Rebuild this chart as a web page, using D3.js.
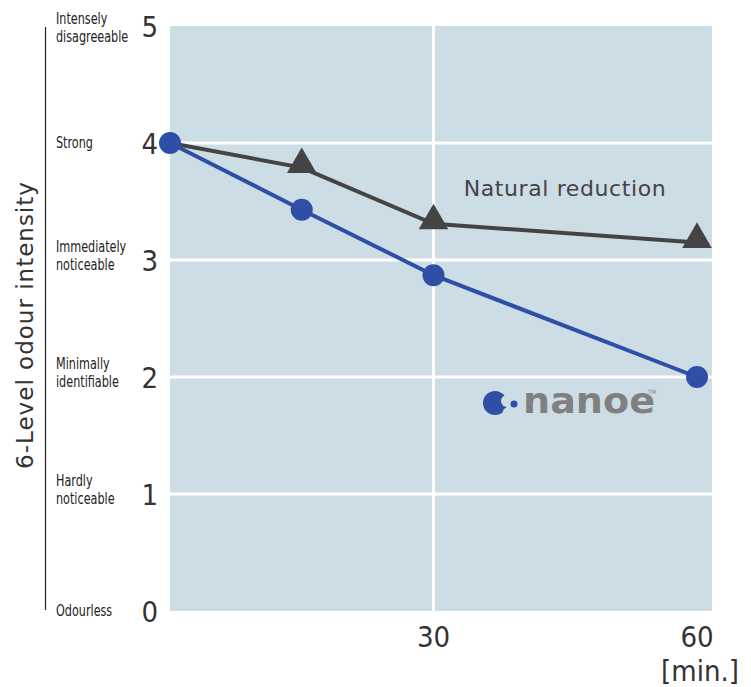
<!DOCTYPE html>
<html>
<head>
<meta charset="utf-8">
<script src="https://cdn.jsdelivr.net/npm/d3@7"></script>
<style>
  body { margin: 0; background: #fff; }
  text { font-family: "DejaVu Sans Condensed", "Liberation Sans Narrow", sans-serif; }
</style>
</head>
<body>
<main></main>
<script>
// data
let minutes = [0, 15, 30, 60]
let natural = [4, 3.79, 3.31, 3.15]
let nanoe = [4, 3.43, 2.87, 2.0]
let levels = [0, 1, 2, 3, 4, 5]
let levelNames = [
  ['Odourless'],
  ['Hardly', 'noticeable'],
  ['Minimally', 'identifiable'],
  ['Immediately', 'noticeable'],
  ['Strong'],
  ['Intensely', 'disagreeable']
]
let xTicks = [30, 60]

let svg = d3.select('main')
    .append('svg')
    .attr('width', 751)
    .attr('height', 687)

let x = d3.scaleLinear().domain([0, 60]).range([170, 697])
let y = d3.scaleLinear().domain([0, 5]).range([611, 26])

// plot background
svg.append('rect')
    .attr('x', x(0))
    .attr('y', y(5))
    .attr('width', x(61.7) - x(0))
    .attr('height', y(0) - y(5))
    .style('fill', '#cddde6')

// grid
svg.append('g')
    .selectAll('line')
    .data([1, 2, 3, 4])
    .join('line')
    .attr('x1', x(0))
    .attr('x2', x(61.7))
    .attr('y1', d => y(d))
    .attr('y2', d => y(d))
    .style('stroke', '#fff')
    .style('stroke-width', 3)

svg.append('line')
    .attr('x1', x(30))
    .attr('x2', x(30))
    .attr('y1', y(5))
    .attr('y2', y(0))
    .style('stroke', '#fff')
    .style('stroke-width', 3)

// left bracket line
svg.append('line')
    .attr('x1', 45.5).attr('x2', 45.5)
    .attr('y1', 27).attr('y2', 610)
    .style('stroke', '#222')
    .style('stroke-width', 1.2)

// axis title
svg.append('text')
    .attr('transform', 'translate(33,325) rotate(-90)')
    .attr('text-anchor', 'middle')
    .style('font-family', '"DejaVu Sans", sans-serif')
    .style('font-size', '23px')
    .style('letter-spacing', '1px')
    .style('fill', '#333')
    .text('6-Level odour intensity')

// y tick numbers
svg.append('g')
    .selectAll('text')
    .data(levels)
    .join('text')
    .attr('x', 158)
    .attr('y', d => y(d) + 11)
    .attr('text-anchor', 'end')
    .style('font-size', '29px')
    .style('font-weight', '300')
    .style('fill', '#333')
    .text(d => d)

// level names
let nameG = svg.append('g')
levels.forEach(function (lv, i) {
  let lines = levelNames[i]
  let base = lines.length === 1 ? y(lv) + 5 : Math.max(y(lv) - 8, 24)
  let t = nameG.append('text')
      .attr('transform', 'translate(56,' + base + ') scale(0.78,1)')
      .style('font-size', '16px')
      .style('fill', '#222')
  lines.forEach(function (s, j) {
    t.append('tspan').attr('x', 0).attr('dy', j === 0 ? 0 : 18).text(s)
  })
})

// x tick labels
svg.append('g')
    .selectAll('text')
    .data(xTicks)
    .join('text')
    .attr('x', d => x(d))
    .attr('y', 647)
    .attr('text-anchor', 'middle')
    .style('font-size', '29px')
    .style('fill', '#333')
    .text(d => d)

svg.append('text')
    .attr('x', x(60) + 3)
    .attr('y', 681)
    .attr('text-anchor', 'middle')
    .style('font-size', '29px')
    .style('fill', '#333')
    .text('[min.]')

// lines
let line = d3.line()
    .x((d, i) => x(minutes[i]))
    .y(d => y(d))

svg.append('path')
    .datum(natural)
    .attr('d', line)
    .style('fill', 'none')
    .style('stroke', '#444')
    .style('stroke-width', 4)

svg.append('path')
    .datum(nanoe)
    .attr('d', line)
    .style('fill', 'none')
    .style('stroke', '#2f4ea5')
    .style('stroke-width', 4)

// triangles (skip first, covered by circle)
svg.append('g')
    .selectAll('path')
    .data(natural.slice(1))
    .join('path')
    .attr('transform', (d, i) => 'translate(' + x(minutes[i + 1]) + ',' + (y(d) - 3) + ')')
    .attr('d', d3.symbol().type(d3.symbolTriangle).size(380))
    .style('fill', '#444')

svg.append('g')
    .selectAll('circle')
    .data(nanoe)
    .join('circle')
    .attr('cx', (d, i) => x(minutes[i]))
    .attr('cy', d => y(d))
    .attr('r', 11)
    .style('fill', '#2f4ea5')

// label
svg.append('text')
    .attr('x', 565)
    .attr('y', 196)
    .attr('text-anchor', 'middle')
    .style('font-family', '"DejaVu Sans", sans-serif')
    .style('font-size', '22px')
    .style('letter-spacing', '0.6px')
    .style('fill', '#444')
    .text('Natural reduction')

// nanoe logo
let logo = svg.append('g').attr('transform', 'translate(495,403)')
logo.append('circle').attr('cx', 0).attr('cy', 0).attr('r', 12).style('fill', '#2f4ea5')
logo.append('circle').attr('cx', 12).attr('cy', -2).attr('r', 6).style('fill', '#cddde6')
logo.append('circle').attr('cx', 12).attr('cy', 9).attr('r', 4).style('fill', '#cddde6')
logo.append('circle').attr('cx', 19).attr('cy', 1).attr('r', 3.5).style('fill', '#2f4ea5')
logo.append('text')
    .attr('x', 28)
    .attr('y', 10)
    .attr('textLength', 132)
    .attr('lengthAdjust', 'spacingAndGlyphs')
    .style('font-family', '"DejaVu Sans", sans-serif')
    .style('font-size', '36px')
    .style('font-weight', 'bold')
    .style('fill', '#808080')
    .text('nanoe')
logo.append('text')
    .attr('x', 153)
    .attr('y', -9)
    .style('font-size', '6px')
    .style('fill', '#808080')
    .text('TM')
</script>
</body>
</html>
